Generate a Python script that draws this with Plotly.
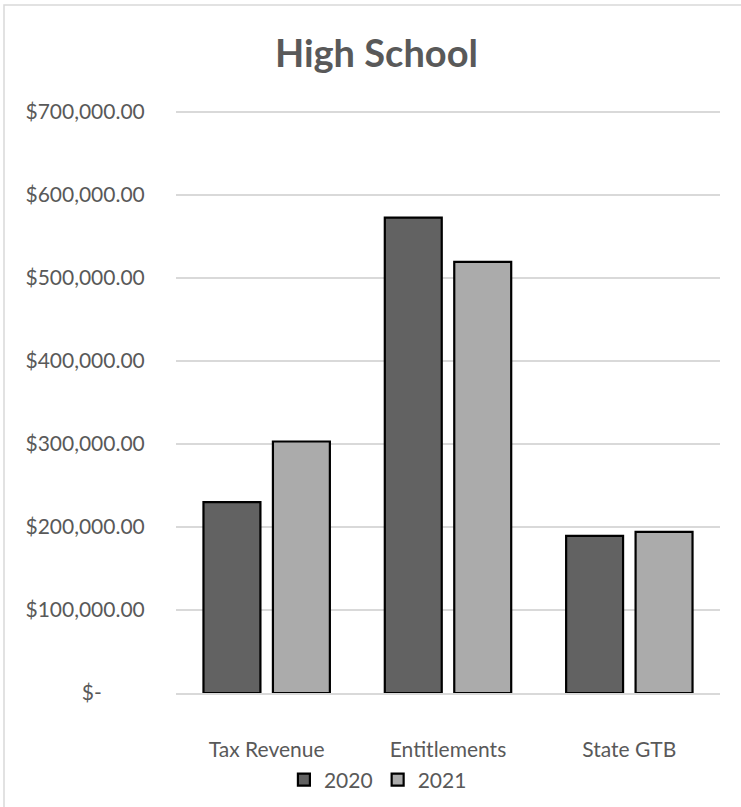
import plotly.graph_objects as go

# Funding categories and yearly totals (USD)
categories = ["Tax Revenue", "Entitlements", "State GTB"]
years = ["2020", "2021"]
values_2020 = [229800, 572300, 189300]
values_2021 = [302800, 519000, 194100]

y_tickvals = [0, 100000, 200000, 300000, 400000, 500000, 600000, 700000]
y_ticktext = ["$-\u00a0\u00a0\u00a0\u00a0\u00a0\u00a0\u00a0\u00a0",
              "$100,000.00", "$200,000.00", "$300,000.00", "$400,000.00",
              "$500,000.00", "$600,000.00", "$700,000.00"]

W, H = 741, 807
ML, MR, MT, MB = 176, 21, 95, 114
FONT = "Lato"
TEXT = "#595959"

series = [
    (years[0], values_2020, "#626262"),
    (years[1], values_2021, "#ababab"),
]

fig = go.Figure()
for name, vals, color in series:
    fig.add_trace(go.Bar(
        name=name, x=categories, y=vals,
        marker=dict(color=color, line=dict(color="#000000", width=2.2)),
    ))

# light frame around the whole chart area (open at the bottom edge of the page)
pw = W - ML - MR
ph = H - MT - MB
fig.add_shape(
    type="rect", xref="paper", yref="paper",
    x0=(4 - ML) / pw, x1=(W + 5 - ML) / pw,
    y0=-(MB + 10) / ph, y1=1 + (MT - 5) / ph,
    line=dict(color="#d9d9d9", width=1.5), fillcolor="rgba(0,0,0,0)", layer="below",
)

fig.update_layout(
    width=W, height=H,
    margin=dict(l=ML, r=MR, t=MT, b=MB, autoexpand=False),
    paper_bgcolor="white", plot_bgcolor="white",
    barmode="group", bargap=0.234, bargroupgap=0.18,
    title=dict(text="<b>High School</b>", x=0.508, xref="container", xanchor="center",
               y=1 - 54 / H, yref="container", yanchor="middle",
               font=dict(family=FONT, size=38, color=TEXT)),
    font=dict(family=FONT, color=TEXT),
    showlegend=True,
    legend=dict(orientation="h", x=0.51, xref="container", xanchor="center",
                y=1 - 780 / H, yref="container", yanchor="middle",
                bgcolor="rgba(0,0,0,0)",
                font=dict(family=FONT, size=21, color=TEXT),
                itemwidth=30, tracegroupgap=0, traceorder="normal"),
    xaxis=dict(showgrid=False, showline=True, linecolor="#d9d9d9", linewidth=2,
               ticks="outside", ticklen=37, tickcolor="rgba(0,0,0,0)",
               tickfont=dict(family=FONT, size=21, color=TEXT)),
    yaxis=dict(range=[0, 720000], tickvals=y_tickvals, ticktext=y_ticktext,
               showgrid=True, gridcolor="#d9d9d9", gridwidth=2,
               zeroline=False, showline=False,
               ticks="outside", ticklen=26, tickcolor="rgba(0,0,0,0)",
               tickfont=dict(family=FONT, size=21, color=TEXT)),
)

fig.write_html("out.html")
